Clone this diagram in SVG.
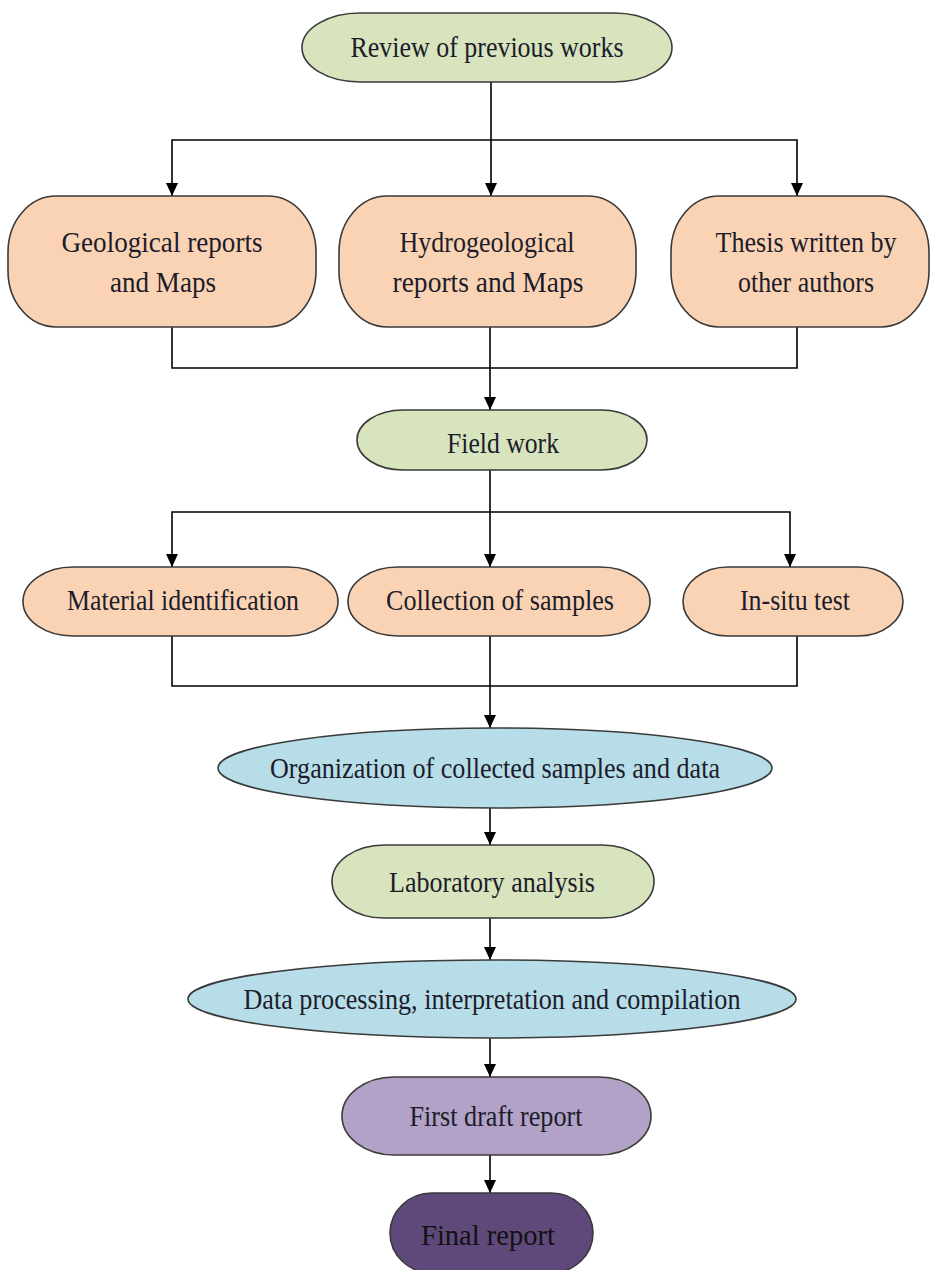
<svg xmlns="http://www.w3.org/2000/svg" width="931" height="1270" viewBox="0 0 931 1270">
<style>
.n{stroke:#3a3a3a;stroke-width:1.6}
.g{fill:#d7e4bd}.o{fill:#fad3b4}.b{fill:#b7dde8}.p{fill:#b2a2c7}.d{fill:#5f497a}
text{font-family:"Liberation Serif","Times New Roman",serif;font-size:29px;fill:#1c1c2a;text-anchor:middle}
.c{fill:none;stroke:#000;stroke-width:1.6}
</style>
<g id="connectors">
<path class="c" d="M491,82 V196"/>
<path class="c" d="M172,196 V140 H797 V196"/>
<path class="c" d="M172,327 V368 H797 V327 M490,327 V410"/>
<path class="c" d="M490,470 V567"/>
<path class="c" d="M172,567 V512 H790 V567"/>
<path class="c" d="M172,636 V686 H797 V636 M490,636 V728"/>
<path class="c" d="M490,808 V845"/>
<path class="c" d="M490,918 V960"/>
<path class="c" d="M490,1038 V1077"/>
<path class="c" d="M490,1155 V1193"/>
<g fill="#000">
<path d="M166,183 L178,183 L172,196 Z"/>
<path d="M485,183 L497,183 L491,196 Z"/>
<path d="M791,183 L803,183 L797,196 Z"/>
<path d="M484,397 L496,397 L490,410 Z"/>
<path d="M166,554 L178,554 L172,567 Z"/>
<path d="M484,554 L496,554 L490,567 Z"/>
<path d="M784,554 L796,554 L790,567 Z"/>
<path d="M484,715 L496,715 L490,728 Z"/>
<path d="M484,832 L496,832 L490,845 Z"/>
<path d="M484,947 L496,947 L490,960 Z"/>
<path d="M484,1064 L496,1064 L490,1077 Z"/>
<path d="M484,1180 L496,1180 L490,1193 Z"/>
</g>
</g>
<g id="review"><rect class="n g" x="302" y="13" width="370" height="69" rx="58" ry="34.5"/><text x="487" y="57" textLength="273" lengthAdjust="spacingAndGlyphs">Review of previous works</text></g>
<g id="geological"><rect class="n o" x="8" y="196" width="308" height="131" rx="48" ry="56"/><text x="162" y="252" textLength="201" lengthAdjust="spacingAndGlyphs">Geological reports</text><text x="163" y="292" textLength="106" lengthAdjust="spacingAndGlyphs">and Maps</text></g>
<g id="hydro"><rect class="n o" x="339" y="196" width="297" height="131" rx="48" ry="56"/><text x="487" y="252" textLength="175" lengthAdjust="spacingAndGlyphs">Hydrogeological</text><text x="488" y="292" textLength="191" lengthAdjust="spacingAndGlyphs">reports and Maps</text></g>
<g id="thesis"><rect class="n o" x="671" y="196" width="258" height="131" rx="48" ry="56"/><text x="806" y="252" textLength="181" lengthAdjust="spacingAndGlyphs">Thesis written by</text><text x="806" y="292" textLength="136" lengthAdjust="spacingAndGlyphs">other authors</text></g>
<g id="fieldwork"><rect class="n g" x="357" y="410" width="290" height="60" rx="46" ry="30"/><text x="503" y="453" textLength="112" lengthAdjust="spacingAndGlyphs">Field work</text></g>
<g id="material"><rect class="n o" x="23" y="567" width="315" height="69" rx="50" ry="34.5"/><text x="183" y="610" textLength="232" lengthAdjust="spacingAndGlyphs">Material identification</text></g>
<g id="collection"><rect class="n o" x="348" y="567" width="302" height="69" rx="50" ry="34.5"/><text x="500" y="610" textLength="228" lengthAdjust="spacingAndGlyphs">Collection of samples</text></g>
<g id="insitu"><rect class="n o" x="683" y="567" width="220" height="69" rx="45" ry="34.5"/><text x="795" y="610" textLength="110" lengthAdjust="spacingAndGlyphs">In-situ test</text></g>
<g id="organization"><ellipse class="n b" cx="495" cy="768" rx="277" ry="40"/><text x="495" y="778" textLength="450" lengthAdjust="spacingAndGlyphs">Organization of collected samples and data</text></g>
<g id="laboratory"><rect class="n g" x="332" y="845" width="322" height="73" rx="52" ry="36.5"/><text x="492" y="892" textLength="206" lengthAdjust="spacingAndGlyphs">Laboratory analysis</text></g>
<g id="dataprocessing"><ellipse class="n b" cx="492" cy="999" rx="304" ry="39"/><text x="492" y="1009" textLength="497" lengthAdjust="spacingAndGlyphs">Data processing, interpretation and compilation</text></g>
<g id="firstdraft"><rect class="n p" x="342" y="1077" width="309" height="78" rx="52" ry="39"/><text x="496" y="1126" textLength="173" lengthAdjust="spacingAndGlyphs">First draft report</text></g>
<g id="final"><rect class="n d" x="390" y="1193" width="203" height="80" rx="42" ry="40"/><text x="488" y="1245" textLength="134" lengthAdjust="spacingAndGlyphs" style="fill:#111">Final report</text></g>
</svg>
